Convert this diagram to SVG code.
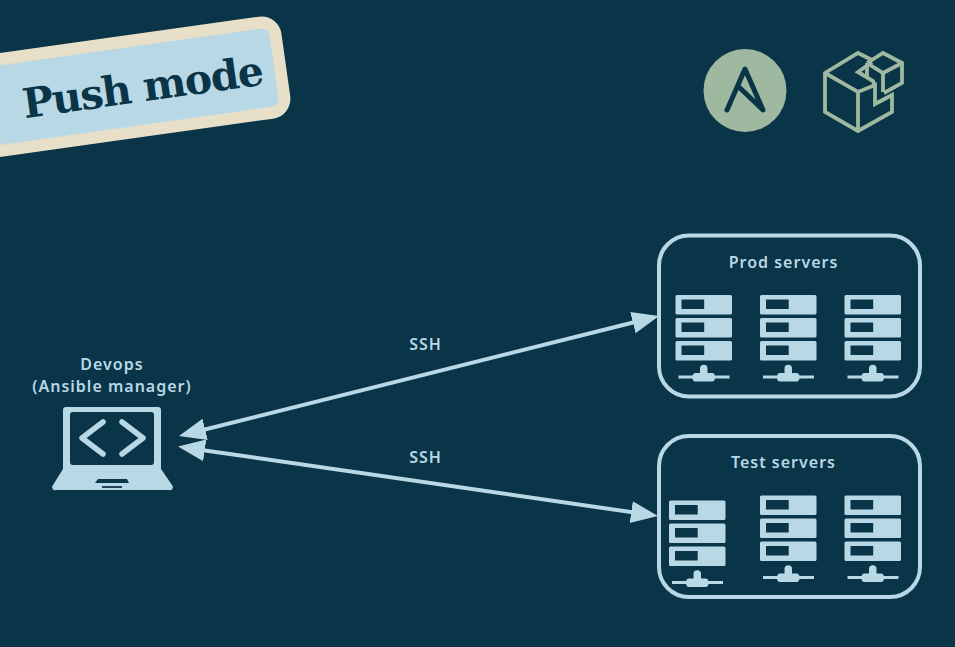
<svg xmlns="http://www.w3.org/2000/svg" xmlns:xlink="http://www.w3.org/1999/xlink" width="955" height="647" viewBox="0 0 955 647">
<style>
.lbl{font-family:"Noto Sans","Lato",sans-serif;font-size:16px;font-weight:600;fill:#b8d8e6;text-anchor:middle;letter-spacing:1px}
.box{fill:none;stroke:#b8d8e6;stroke-width:4}
.wire{fill:none;stroke:#b8d8e6;stroke-width:4}
.ic{fill:none;stroke:#9fb9a0;stroke-width:3.8;stroke-linejoin:miter}
</style>
<defs>
<g id="unit"><rect x="0" y="0" width="56.500" height="19.500" rx="1.500" fill="#b8d8e6"/><rect x="6" y="4.500" width="22.700" height="9.500" fill="#0a3447"/></g>
<g id="server">
<use xlink:href="#unit" href="#unit" y="0"/><use xlink:href="#unit" href="#unit" y="23"/><use xlink:href="#unit" href="#unit" y="46"/>
<path d="M3 82H54" stroke="#b8d8e6" stroke-width="3" fill="none"/>
<path d="M24.500 73.500a3.750 3.750 0 0 1 7.500 0V78h4.500a3 4 0 0 1 3 4v.5a3 4 0 0 1-3 4H20a3 4 0 0 1-3-4V82a3 4 0 0 1 3-4h4.500z" fill="#b8d8e6"/>
</g>
<marker id="head" markerUnits="userSpaceOnUse" markerWidth="30" markerHeight="26" refX="21" refY="12" orient="auto-start-reverse"><path d="M0 1L27 12L0 23z" fill="#b8d8e6"/></marker>
</defs>
<rect width="955" height="647" fill="#0a3447"/>
<g id="banner" transform="translate(292 116) rotate(-8)">
<rect x="-340" y="-97" width="335" height="91" rx="14" fill="#b8d8e6" stroke="#e8dfc9" stroke-width="12"/>
<text x="-265" y="-35" font-family="'DejaVu Serif',serif" font-weight="700" font-size="41" fill="#0a3447" textLength="243">Push mode</text>
</g>
<g id="ansible">
<circle cx="745" cy="90.500" r="41.500" fill="#9fb9a0"/>
<path d="M727 110L745 69L763 110L740 88" fill="none" stroke="#0a3447" stroke-width="5" stroke-linejoin="round" stroke-linecap="round"/>
</g>
<g id="package">
<path class="ic" d="M872 60L858 53L825 73V112L858 131L892 112V95L875 104V85L858 92L825 73M858 92V131M872 62L858 72L873 81L875 86"/>
<path class="ic" d="M867 63L883 53L902 63V83L884 93M867 63L883 73L902 63M883 73V92M867 63V77"/>
</g>
<g id="connectors">
<path class="wire" d="M184.800 434.500L653.200 317.500" marker-start="url(#head)" marker-end="url(#head)"/>
<path class="wire" d="M184 447.400L652 515.100" marker-start="url(#head)" marker-end="url(#head)"/>
<text class="lbl" x="425.500" y="350">SSH</text>
<text class="lbl" x="425.500" y="463">SSH</text>
</g>
<g id="devops">
<text class="lbl" x="112" y="370">Devops</text>
<text class="lbl" x="112" y="392">(Ansible manager)</text>
<path d="M66 407H158a3 3 0 0 1 3 3V469L172 485a3 3 0 0 1-3 5H56a3 3 0 0 1-3-5L63 469V410a3 3 0 0 1 3-3z" fill="#b8d8e6"/>
<rect x="70" y="412" width="84" height="53" rx="3" fill="#0a3447"/>
<path d="M103 422L82 438L103 454M122 422L143 438L122 454" fill="none" stroke="#b8d8e6" stroke-width="5.500" stroke-linecap="round" stroke-linejoin="round"/>
<path d="M98 479H127L129 483H95z" fill="#0a3447"/>
<path d="M102 487H122" stroke="#0a3447" stroke-width="1.800"/>
</g>
<g id="prod">
<rect class="box" x="659" y="235.500" width="261" height="161" rx="30"/>
<text class="lbl" x="783.500" y="268">Prod servers</text>
<use xlink:href="#server" href="#server" x="675.500" y="295"/>
<use xlink:href="#server" href="#server" x="760" y="295"/>
<use xlink:href="#server" href="#server" x="844.500" y="295"/>
</g>
<g id="test">
<rect class="box" x="659" y="436" width="261" height="161" rx="30"/>
<text class="lbl" x="783.500" y="468">Test servers</text>
<use xlink:href="#server" href="#server" x="669" y="500.500"/>
<use xlink:href="#server" href="#server" x="760" y="495.500"/>
<use xlink:href="#server" href="#server" x="844.500" y="495.500"/>
</g>
</svg>
